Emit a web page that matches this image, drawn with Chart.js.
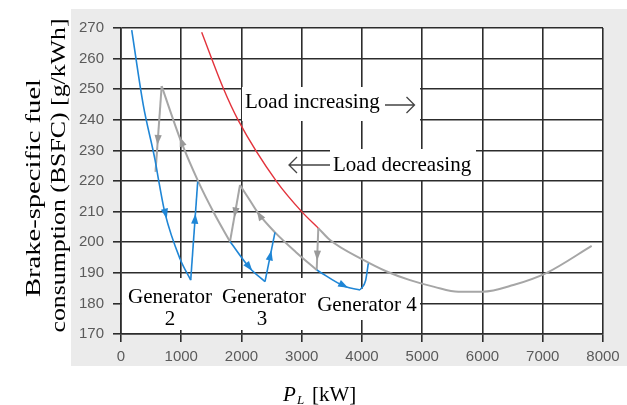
<!DOCTYPE html>
<html>
<head>
<meta charset="utf-8">
<script src="https://cdn.jsdelivr.net/npm/chart.js@4.4.1/dist/chart.umd.min.js"></script>
<style>
  html, body { margin: 0; padding: 0; background: #fff; }
</style>
</head>
<body>
<canvas id="grafico" width="627" height="405"></canvas>
<script>
// eixos
var vtTicksX = [0, 1000, 2000, 3000, 4000, 5000, 6000, 7000, 8000];
var vtTicksY = [170, 180, 190, 200, 210, 220, 230, 240, 250, 260, 270];

// curvas azuis (carga subindo)
var cargaGer1 = [178, 370, 564, 636, 730, 979, 1157];
var bsfcGer1 = [269.3, 244.8, 227, 219, 209.5, 194.6, 187.6];
var cargaSalto2 = [1157, 1273];
var bsfcSalto2 = [187.6, 219.8];
var cargaGer2Azul = [1809, 2141, 2390];
var bsfcGer2Azul = [200.2, 191.5, 187.1];
var cargaSalto3 = [2390, 2556];
var bsfcSalto3 = [187.1, 203.2];
var cargaGer3Azul = [3248, 3718, 3967];
var bsfcGer3Azul = [190.9, 185.5, 184.4];
var cargaSalto4 = [3967, 4060, 4105];
var bsfcSalto4 = [184.4, 187.5, 193.1];

// curva vermelha
var cargaVermelha = [1339, 1698, 1942, 2584, 2999, 3275];
var bsfcVermelha = [268.6, 250.3, 240, 219.8, 210, 204.6];

// curvas cinzas (carga descendo)
var cargaQueda1 = [573, 675];
var bsfcQueda1 = [223, 251];
var cargaGer2Cinza = [675, 996, 1283, 1550, 1809];
var bsfcGer2Cinza = [251, 233, 219.8, 209.3, 200.2];
var cargaQueda2 = [1809, 1975];
var bsfcQueda2 = [200.2, 218.7];
var cargaGer3Cinza = [1975, 2141, 2279, 2556, 2900, 3248];
var bsfcGer3Cinza = [218.7, 213.6, 209.4, 203.2, 196.8, 190.9];
var cargaQueda3 = [3275, 3248];
var bsfcQueda3 = [204.6, 190.9];
var cargaGer4Cinza = [3275, 3469, 4022, 4400, 4797, 5200, 5600, 6000, 6512, 7066, 7812];
var bsfcGer4Cinza = [204.6, 200.7, 194.2, 190.5, 187.6, 185.4, 183.8, 183.8, 186, 190, 198.8];

// setas: ponta (X, Y) e ponto de origem (DeX, DeY)
var setaAzulX = [760, 1235, 2180, 2495, 3770];
var setaAzulY = [207.7, 209.3, 190.6, 197.3, 185.1];
var setaAzulDeX = [700, 1210, 2120, 2470, 3700];
var setaAzulDeY = [212.5, 202.3, 192.1, 194.9, 185.8];
var setaCinzaX = [605, 975, 1880, 2255, 3254];
var setaCinzaY = [231.8, 234.5, 208.1, 210.2, 194];
var setaCinzaDeX = [625, 1010, 1900, 2290, 3262];
var setaCinzaDeY = [237.3, 232.6, 210.3, 209.1, 198];

function juntar(vx, vy) {
  var pontos = [];
  for (var i = 0; i < vx.length; i++) {
    pontos.push({ x: vx[i], y: vy[i] });
  }
  return pontos;
}

function linha(vx, vy, cor, largura) {
  return {
    data: juntar(vx, vy),
    borderColor: cor,
    borderWidth: largura,
    pointRadius: 0,
    fill: false,
    tension: 0.4,
    cubicInterpolationMode: "monotone",
  };
}

var AZUL = "#1f86d6";
var CINZA = "#a6a6a6";
var VERMELHO = "#e3323b";
var GRADE = "#2c2c2c";

function desenharSetas(chart, vx, vy, vdx, vdy, cor) {
  var ctx = chart.ctx;
  var sx = chart.scales.x;
  var sy = chart.scales.y;
  ctx.save();
  ctx.fillStyle = cor;
  for (var i = 0; i < vx.length; i++) {
    var px = sx.getPixelForValue(vx[i]);
    var py = sy.getPixelForValue(vy[i]);
    var ox = sx.getPixelForValue(vdx[i]);
    var oy = sy.getPixelForValue(vdy[i]);
    var d = Math.hypot(px - ox, py - oy);
    var ux = (px - ox) / d;
    var uy = (py - oy) / d;
    var bx = px - ux * 10;
    var by = py - uy * 10;
    ctx.beginPath();
    ctx.moveTo(px, py);
    ctx.lineTo(bx - uy * 3.6, by + ux * 3.6);
    ctx.lineTo(bx + uy * 3.6, by - ux * 3.6);
    ctx.closePath();
    ctx.fill();
  }
  ctx.restore();
}

var pluginFundo = {
  id: "fundo",
  beforeDraw: function (chart) {
    var ctx = chart.ctx;
    var a = chart.chartArea;
    ctx.save();
    ctx.fillStyle = "#ebebeb";
    ctx.fillRect(71, 9, 556, 357);
    ctx.fillStyle = "#ffffff";
    ctx.fillRect(a.left, a.top, a.right - a.left, a.bottom - a.top);
    ctx.restore();
  },
  beforeDatasetsDraw: function (chart) {
    // caixas brancas dos textos por cima da grade
    var ctx = chart.ctx;
    ctx.save();
    ctx.fillStyle = "#ffffff";
    ctx.fillRect(242, 87, 178, 34);
    ctx.fillRect(330, 149, 146, 31);
    ctx.fillRect(122, 278, 191, 52);
    ctx.fillRect(310, 289, 110, 31);
    ctx.restore();
  },
  afterDatasetsDraw: function (chart) {
    var ctx = chart.ctx;
    desenharSetas(chart, setaCinzaX, setaCinzaY, setaCinzaDeX, setaCinzaDeY, "#999999");
    desenharSetas(chart, setaAzulX, setaAzulY, setaAzulDeX, setaAzulDeY, AZUL);

    ctx.save();
    ctx.fillStyle = "#000";
    ctx.textBaseline = "alphabetic";
    ctx.font = '21px "Liberation Serif"';
    ctx.textAlign = "left";
    ctx.fillText("Load increasing", 245, 108);
    ctx.fillText("Load decreasing", 333, 171);
    ctx.textAlign = "center";
    ctx.fillText("Generator", 170, 303);
    ctx.fillText("2", 170, 325);
    ctx.fillText("Generator", 264, 303);
    ctx.fillText("3", 262, 325);
    ctx.fillText("Generator 4", 367, 311);

    // setas dos textos
    ctx.strokeStyle = "#444";
    ctx.lineWidth = 1.3;
    ctx.beginPath();
    ctx.moveTo(385, 105);
    ctx.lineTo(414, 105);
    ctx.moveTo(406.5, 97);
    ctx.lineTo(414.5, 105);
    ctx.lineTo(406.5, 113);
    ctx.moveTo(289, 165);
    ctx.lineTo(330, 165);
    ctx.moveTo(297, 157);
    ctx.lineTo(289, 165);
    ctx.lineTo(297, 173);
    ctx.stroke();
    ctx.restore();
  },
  afterDraw: function (chart) {
    var ctx = chart.ctx;
    ctx.save();
    ctx.fillStyle = "#000";
    ctx.textBaseline = "alphabetic";

    // titulo eixo x: P_L [kW]
    ctx.textAlign = "left";
    ctx.font = 'italic 21px "Liberation Serif"';
    ctx.fillText("P", 283, 401);
    ctx.font = 'italic 13px "Liberation Serif"';
    ctx.fillText("L", 297, 404);
    ctx.font = '21px "Liberation Serif"';
    ctx.fillText("[kW]", 312, 401);

    // titulo eixo y em duas linhas
    var linhas = ["Brake-specific fuel", "consumption (BSFC) [g/kWh]"];
    var posX = [40, 64.5];
    var posY = [188, 175.5];
    var compr = [218, 314];
    ctx.font = '22px "Liberation Serif"';
    ctx.textAlign = "center";
    for (var i = 0; i < linhas.length; i++) {
      var w = ctx.measureText(linhas[i]).width;
      ctx.save();
      ctx.translate(posX[i], posY[i]);
      ctx.rotate(-Math.PI / 2);
      ctx.scale(compr[i] / w, 1);
      ctx.fillText(linhas[i], 0, 0);
      ctx.restore();
    }
    ctx.restore();
  },
};

var dados = {
  datasets: [
    linha(cargaGer1, bsfcGer1, AZUL, 1.6),
    linha(cargaSalto2, bsfcSalto2, AZUL, 1.6),
    linha(cargaGer2Azul, bsfcGer2Azul, AZUL, 1.6),
    linha(cargaSalto3, bsfcSalto3, AZUL, 1.6),
    linha(cargaGer3Azul, bsfcGer3Azul, AZUL, 1.6),
    linha(cargaSalto4, bsfcSalto4, AZUL, 1.6),
    linha(cargaVermelha, bsfcVermelha, VERMELHO, 1.4),
    linha(cargaQueda1, bsfcQueda1, CINZA, 2),
    linha(cargaGer2Cinza, bsfcGer2Cinza, CINZA, 2),
    linha(cargaQueda2, bsfcQueda2, CINZA, 2),
    linha(cargaGer3Cinza, bsfcGer3Cinza, CINZA, 2),
    linha(cargaQueda3, bsfcQueda3, CINZA, 2),
    linha(cargaGer4Cinza, bsfcGer4Cinza, CINZA, 2),
  ],
};

const config = {
  type: "line",
  data: dados,
  options: {
    responsive: false,
    animation: false,
    devicePixelRatio: 1,
    layout: { padding: { top: 28, right: 24, left: 0, bottom: 0 } },
    plugins: {
      legend: { display: false },
      tooltip: { enabled: false },
    },
    scales: {
      x: {
        type: "linear",
        min: vtTicksX[0],
        max: vtTicksX[vtTicksX.length - 1],
        afterBuildTicks: function (scale) {
          scale.ticks = vtTicksX.map(function (v) { return { value: v }; });
        },
        afterFit: function (scale) { scale.height = 71; },
        grid: { color: GRADE, lineWidth: 1.6, tickLength: 8, drawTicks: true },
        border: { color: GRADE, width: 1.6 },
        ticks: {
          color: "#5a5a5a",
          padding: 6,
          maxRotation: 0,
          font: { family: "Liberation Sans", size: 15 },
          callback: function (v) { return String(v); },
        },
      },
      y: {
        type: "linear",
        min: vtTicksY[0],
        max: vtTicksY[vtTicksY.length - 1],
        afterBuildTicks: function (scale) {
          scale.ticks = vtTicksY.map(function (v) { return { value: v }; });
        },
        afterFit: function (scale) { scale.width = 121; },
        grid: { color: GRADE, lineWidth: 1.6, tickLength: 8, drawTicks: true },
        border: { color: GRADE, width: 1.6 },
        ticks: {
          color: "#5a5a5a",
          padding: 9,
          font: { family: "Liberation Sans", size: 15 },
          callback: function (v) { return String(v); },
        },
      },
    },
  },
  plugins: [pluginFundo],
};

let meuGrafico = new Chart(document.getElementById("grafico"), config);
</script>
</body>
</html>
